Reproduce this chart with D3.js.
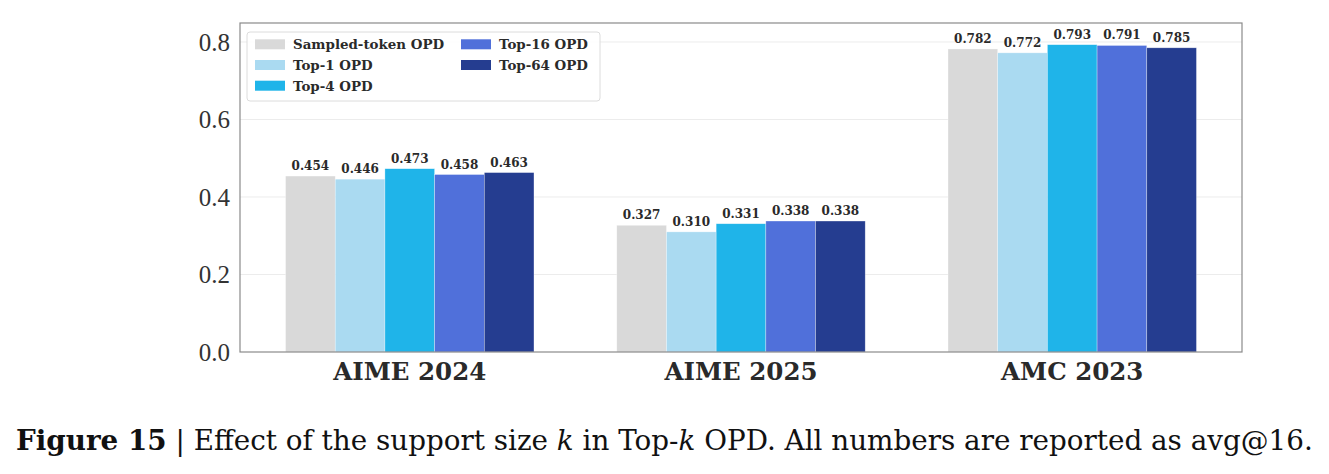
<!DOCTYPE html>
<html>
<head>
<meta charset="utf-8">
<script src="https://cdn.jsdelivr.net/npm/d3@7"></script>
<style>
  body { margin: 0; background: #fff; }
  svg { display: block; }
  .y-axis text { font-family: "Liberation Serif", "Times New Roman", serif; }
</style>
</head>
<body>
<svg id="chart" width="1329" height="474"></svg>
<script>
const benchmarks = ["AIME 2024", "AIME 2025", "AMC 2023"];
const methods = ["Sampled-token OPD", "Top-1 OPD", "Top-4 OPD", "Top-16 OPD", "Top-64 OPD"];
const colors = ["#d9d9d9", "#aadaf1", "#1fb4e9", "#5070da", "#253d90"];
// scores[method][benchmark]
const scores = [
  [0.454, 0.327, 0.782],
  [0.446, 0.310, 0.772],
  [0.473, 0.331, 0.793],
  [0.458, 0.338, 0.791],
  [0.463, 0.338, 0.785],
];
const yTicks = [0.0, 0.2, 0.4, 0.6, 0.8];

const margin = { top: 23, right: 87, bottom: 122, left: 240 };
const width = 1329, height = 474;

const svg = d3.select("#chart");

const x = d3
  .scaleBand()
  .domain(benchmarks)
  .range([margin.left, width - margin.right])
  .paddingInner(0.25)
  .paddingOuter(0.1375);
const xInner = d3.scaleBand().domain(methods).range([0, x.bandwidth()]);
const y = d3
  .scaleLinear()
  .domain([0, 0.849])
  .range([height - margin.bottom, margin.top]);

// grid
svg
  .append("g")
  .selectAll("line")
  .data(yTicks.slice(1))
  .join("line")
  .attr("x1", margin.left)
  .attr("x2", width - margin.right)
  .attr("y1", (d) => y(d))
  .attr("y2", (d) => y(d))
  .attr("stroke", "#ececec")
  .attr("stroke-width", 1);

// bars
const rows = benchmarks.flatMap((b, bi) =>
  methods.map((m, mi) => ({ b, m, mi, v: scores[mi][bi] }))
);

svg
  .append("g")
  .selectAll("rect")
  .data(rows)
  .join("rect")
  .attr("x", (d) => x(d.b) + xInner(d.m))
  .attr("y", (d) => y(d.v))
  .attr("width", xInner.bandwidth())
  .attr("height", (d) => y(0) - y(d.v))
  .attr("fill", (d) => colors[d.mi])
  .attr("stroke", "#ffffff")
  .attr("stroke-opacity", 0.5)
  .attr("stroke-width", 0.6);

svg
  .append("g")
  .selectAll("text")
  .data(rows)
  .join("text")
  .attr("x", (d) => x(d.b) + xInner(d.m) + xInner.bandwidth() / 2)
  .attr("y", (d) => y(d.v) - 6)
  .attr("text-anchor", "middle")
  .attr("font-family", "DejaVu Serif")
  .attr("font-weight", "bold")
  .attr("font-size", 12)
  .attr("fill", "#2a2a2a")
  .text((d) => d3.format(".3f")(d.v));

// frame
svg
  .append("rect")
  .attr("x", margin.left)
  .attr("y", margin.top)
  .attr("width", width - margin.left - margin.right)
  .attr("height", height - margin.top - margin.bottom)
  .attr("fill", "none")
  .attr("stroke", "#8a8a8a")
  .attr("stroke-width", 1.2);

// y axis
const gY = svg
  .append("g")
  .attr("class", "y-axis")
  .attr("transform", `translate(${margin.left},0)`)
  .attr("font-family", null)
  .call(d3.axisLeft(y).tickValues(yTicks).tickFormat(d3.format(".1f")).tickSize(0).tickPadding(10))
  .call((g) => g.select(".domain").remove());
gY.attr("font-family", "Liberation Serif").attr("font-size", 25);
gY.selectAll("text")
  .attr("fill", "#333")
  .attr("dy", "0.34em");

// x axis
const gX = svg
  .append("g")
  .attr("transform", `translate(0,${height - margin.bottom})`)
  .call(d3.axisBottom(x).tickSize(0).tickPadding(11))
  .call((g) => g.select(".domain").remove());
gX.selectAll("text")
  .attr("font-family", "DejaVu Serif")
  .attr("font-weight", "bold")
  .attr("font-size", 24.5)
  .attr("fill", "#2a2a2a")
  .attr("dy", "0.71em");

// legend
const legend = svg.append("g").attr("transform", "translate(247,32)");
legend
  .append("rect")
  .attr("width", 353)
  .attr("height", 69)
  .attr("rx", 3)
  .attr("fill", "#fff")
  .attr("fill-opacity", 0.85)
  .attr("stroke", "#dcdcdc");

const legendItem = legend
  .selectAll(".legend-item")
  .data(methods)
  .join("g")
  .attr("class", "legend-item")
  .attr("transform", (d, i) => {
    const col = i < 3 ? 0 : 1;
    const row = i < 3 ? i : i - 3;
    return `translate(${8 + col * 206},${12.3 + row * 20.7})`;
  });
legendItem
  .append("rect")
  .attr("y", -5)
  .attr("width", 30)
  .attr("height", 10)
  .attr("fill", (d, i) => colors[i]);
legendItem
  .append("text")
  .attr("x", 38)
  .attr("dy", "0.36em")
  .attr("font-family", "DejaVu Serif")
  .attr("font-weight", "bold")
  .attr("font-size", 13.4)
  .attr("fill", "#2a2a2a")
  .text((d) => d);

// caption
const caption = svg
  .append("text")
  .attr("x", 16)
  .attr("y", 450)
  .attr("font-family", "DejaVu Serif")
  .attr("font-size", 27.8)
  .attr("fill", "#111");
caption.append("tspan").attr("font-weight", "bold").text("Figure 15");
caption.append("tspan").text(" | Effect of the support size ");
caption.append("tspan").attr("font-style", "italic").text("k");
caption.append("tspan").text(" in Top-");
caption.append("tspan").attr("font-style", "italic").text("k");
caption.append("tspan").text(" OPD. All numbers are reported as avg@16.");
</script>
</body>
</html>
